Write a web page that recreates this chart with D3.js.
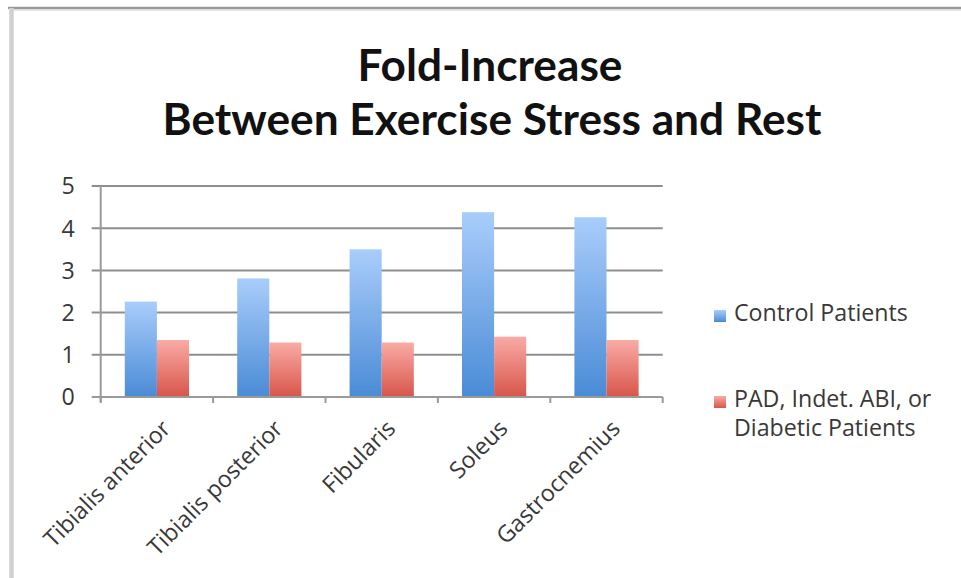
<!DOCTYPE html>
<html>
<head>
<meta charset="utf-8">
<script src="https://cdn.jsdelivr.net/npm/d3@7"></script>
<style>
  html, body { margin: 0; padding: 0; background: #fff; }
  svg { display: block; }
</style>
</head>
<body>
<svg id="chart" width="961" height="578"></svg>
<script>
// Fold-increase in muscle perfusion between exercise stress and rest
const categories = ["Tibialis anterior", "Tibialis posterior", "Fibularis", "Soleus", "Gastrocnemius"];
const seriesNames = ["Control Patients", "PAD, Indet. ABI, or Diabetic Patients"];
const controlValues = [2.26, 2.81, 3.50, 4.38, 4.26];
const padValues = [1.35, 1.29, 1.29, 1.43, 1.35];
const yTicks = [0, 1, 2, 3, 4, 5];
const titleLines = ["Fold-Increase", "Between Exercise Stress and Rest"];

const TITLE_FONT = "Lato, 'Open Sans', sans-serif";
const FONT = "'Open Sans', Lato, sans-serif";
const svg = d3.select("#chart");
const W = 961, H = 578;

const defs = svg.append("defs");
const gradStops = [
  { id: "gradBlue", top: "#a9cdfb", bottom: "#4a8bd6" },
  { id: "gradRed", top: "#f9aba5", bottom: "#d8554a" }
];
gradStops.forEach(g => {
  const lg = defs.append("linearGradient").attr("id", g.id)
    .attr("x1", 0).attr("y1", 0).attr("x2", 0).attr("y2", 1);
  lg.append("stop").attr("offset", "0%").attr("stop-color", g.top);
  lg.append("stop").attr("offset", "100%").attr("stop-color", g.bottom);
});
defs.append("filter").attr("id", "soft").attr("x", "-10%").attr("y", "-10%").attr("width", "120%").attr("height", "120%")
  .append("feGaussianBlur").attr("stdDeviation", 0.7);

// frame of the chart area
svg.append("rect").attr("x", 0).attr("y", 0).attr("width", W).attr("height", H).attr("fill", "#fff");
svg.append("line").attr("x1", 8).attr("x2", W).attr("y1", 8).attr("y2", 8)
  .attr("stroke", "#9a9a9a").attr("stroke-width", 2.5);
svg.append("line").attr("x1", 10).attr("x2", W).attr("y1", 10).attr("y2", 10)
  .attr("stroke", "#dcdcdc").attr("stroke-width", 1.5);
svg.append("line").attr("x1", 11.5).attr("x2", 11.5).attr("y1", 8).attr("y2", H)
  .attr("stroke", "#d0d0d0").attr("stroke-width", 4.5);

// plot geometry
const plot = { left: 100.7, right: 662.7, top: 186, bottom: 397 };

const x = d3.scaleBand().domain(categories).range([plot.left, plot.right]).paddingInner(0).paddingOuter(0);
const barW = x.bandwidth() / 3.5;
const xSeries = d3.scaleBand().domain(seriesNames).range([0, 2 * barW]);
const y = d3.scaleLinear().domain([0, 5]).range([plot.bottom, plot.top]);

// horizontal gridlines
const grid = svg.append("g").attr("filter", "url(#soft)");
grid.selectAll("line").data(yTicks.filter(t => t > 0)).join("line")
  .attr("x1", plot.left - 9).attr("x2", plot.right)
  .attr("y1", d => y(d)).attr("y2", d => y(d))
  .attr("stroke", "#8e8e8e").attr("stroke-width", 2);

// bars
const groupOffset = (x.bandwidth() - 2 * barW) / 2;
const rows = categories.map((c, i) => ({ c, vals: [controlValues[i], padValues[i]] }));
const bars = svg.append("g").attr("filter", "url(#soft)");
rows.forEach(r => {
  r.vals.forEach((v, j) => {
    bars.append("rect")
      .attr("x", x(r.c) + groupOffset + xSeries(seriesNames[j]))
      .attr("y", y(v))
      .attr("width", xSeries.bandwidth())
      .attr("height", y(0) - y(v))
      .attr("fill", j === 0 ? "url(#gradBlue)" : "url(#gradRed)");
  });
});

// axes
const axisG = svg.append("g").attr("filter", "url(#soft)");
axisG.append("line").attr("x1", plot.left).attr("x2", plot.left)
  .attr("y1", plot.top).attr("y2", plot.bottom + 5)
  .attr("stroke", "#9a9a9a").attr("stroke-width", 2);
axisG.append("line").attr("x1", plot.left - 9).attr("x2", plot.right)
  .attr("y1", plot.bottom).attr("y2", plot.bottom)
  .attr("stroke", "#9a9a9a").attr("stroke-width", 2);
const xTickPos = categories.map(c => x(c)).concat([plot.right]);
axisG.selectAll(".xt").data(xTickPos).join("line")
  .attr("x1", d => d).attr("x2", d => d)
  .attr("y1", plot.bottom).attr("y2", plot.bottom + 6)
  .attr("stroke", "#9a9a9a").attr("stroke-width", 2);

// legend (its text width sets the size of all small labels)
const legend = svg.append("g");
const legendItems = [
  { lines: ["Control Patients"], y: 321, fill: "url(#gradBlue)" },
  { lines: ["PAD, Indet. ABI, or", "Diabetic Patients"], y: 407, fill: "url(#gradRed)" }
];
let smallSize = 20;
const legendTexts = legendItems.map(it => {
  legend.append("rect").attr("x", 714).attr("y", it.y - 11).attr("width", 12).attr("height", 12)
    .attr("fill", it.fill).attr("filter", "url(#soft)");
  const t = legend.append("text").attr("x", 734).attr("y", it.y)
    .attr("font-family", FONT).attr("font-size", smallSize).attr("fill", "#383838");
  it.lines.forEach((ln, k) => {
    t.append("tspan").attr("x", 734).attr("dy", k === 0 ? 0 : 29).text(ln);
  });
  return t;
});
const measured = legendTexts[0].node().getComputedTextLength();
smallSize = smallSize * 174 / measured;
legendTexts.forEach(t => t.attr("font-size", smallSize));

// y tick labels
const yAxis = d3.axisLeft(y).tickValues(yTicks).tickSize(0).tickPadding(0).tickFormat(d3.format("d"));
const yG = svg.append("g").attr("transform", `translate(${plot.left - 26},0)`).call(yAxis);
yG.select(".domain").remove();
yG.selectAll("text").attr("font-family", FONT).attr("font-size", smallSize).attr("fill", "#383838")
  .attr("dy", "0.34em");

// x category labels, rotated
const xG = svg.append("g");
xG.selectAll("text").data(categories).join("text")
  .attr("transform", d => `translate(${x(d) + x.bandwidth() / 2 + 15},${plot.bottom + 33}) rotate(-45)`)
  .attr("text-anchor", "end")
  .attr("font-family", FONT).attr("font-size", smallSize).attr("fill", "#383838")
  .text(d => d);

// title, sized to its measured width
const titleSpecs = [
  { text: titleLines[0], cx: 490, base: 81, width: 265 },
  { text: titleLines[1], cx: 492, base: 135, width: 659 }
];
titleSpecs.forEach(s => {
  const t = svg.append("text").attr("x", s.cx).attr("y", s.base)
    .attr("text-anchor", "middle").attr("font-family", TITLE_FONT).attr("font-weight", 700)
    .attr("font-size", 40).attr("fill", "#111").text(s.text);
  const w = t.node().getComputedTextLength();
  t.attr("font-size", 40 * s.width / w);
});
</script>
</body>
</html>
